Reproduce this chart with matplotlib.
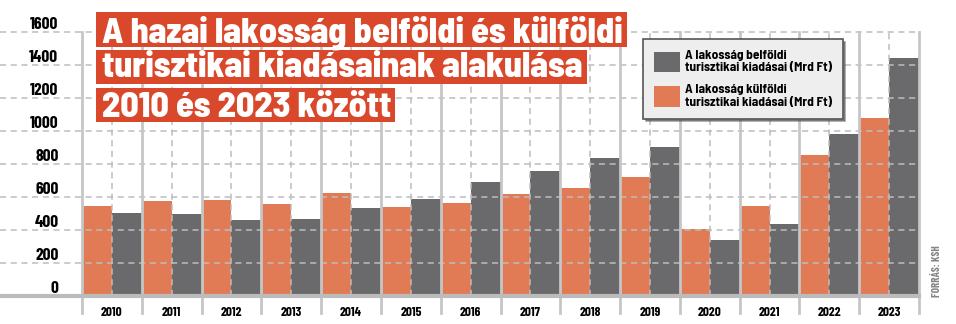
import matplotlib
matplotlib.use('Agg')
import matplotlib.pyplot as plt
import numpy as np
from matplotlib.patches import Patch, Rectangle

years = ['2010', '2011', '2012', '2013', '2014', '2015', '2016',
         '2017', '2018', '2019', '2020', '2021', '2022', '2023']
# külföldi (orange) and belföldi (gray) spending, Mrd Ft
kulfoldi = [543, 574, 580, 556, 622, 537, 562, 616, 653, 719, 404, 543, 853, 1077]
belfoldi = [501, 495, 459, 465, 531, 586, 689, 756, 835, 901, 338, 435, 980, 1441]
y_ticks = [0, 200, 400, 600, 800, 1000, 1200, 1400, 1600]

title_lines = ['A hazai lakosság belföldi és külföldi',
               'turisztikai kiadásainak alakulása',
               '2010 és 2023 között']
label_bel = 'A lakosság belföldi\nturisztikai kiadásai (Mrd Ft)'
label_kul = 'A lakosság külföldi\nturisztikai kiadásai (Mrd Ft)'

ORANGE = '#E07B55'
GRAY = '#6A6A6D'
RED = '#D9482B'
GRID = '#BDBDBD'

plt.rcParams['font.family'] = ['Barlow Condensed', 'DejaVu Sans']
plt.rcParams['font.weight'] = 'bold'
WIDE = ['Barlow Semi Condensed', 'DejaVu Sans']

W, H = 956, 324


def px(xp, yp):
    # pixel position (from top-left) -> figure fraction
    return xp / W, 1 - yp / H


def draw_chart():
    fig = plt.figure(figsize=(W / 100, H / 100), dpi=100)
    ax = fig.add_axes([82 / W, 1 - 296 / H, 837 / W, 264 / H])

    x = np.arange(len(years))
    ax.bar(x - 0.25, kulfoldi, width=0.5, color=ORANGE, zorder=2)
    ax.bar(x + 0.25, belfoldi, width=0.5, color=GRAY, zorder=2)

    ax.set_xlim(-0.5, len(years) - 0.5)
    ax.set_ylim(0, 1600)
    for s in ax.spines.values():
        s.set_visible(False)

    # dashed horizontal grid, running out to the left edge
    ext = -82 / 837
    for v in y_ticks[1:]:
        ax.plot([ext, 1], [v, v], transform=ax.get_yaxis_transform(),
                color=GRID, lw=1.1, ls=(0, (4, 3)), clip_on=False, zorder=3)
    # dashed vertical lines between the two bars of a year
    for xi in x:
        ax.plot([xi, xi], [0, 1600], color=GRID, lw=1.1, ls=(0, (4, 3)), zorder=3)
    # solid separators between years, reaching below the baseline
    for xi in np.append(x - 0.5, x[-1] + 0.5):
        ax.plot([xi, xi], [-17 / 264, 1], transform=ax.get_xaxis_transform(),
                color='#C6C6C6', lw=2, clip_on=False, zorder=4)
    # baseline
    ax.plot([ext, 1], [0, 0], transform=ax.get_yaxis_transform(),
            color='#BBBBBB', lw=3, clip_on=False, zorder=4)

    ax.set_yticks(y_ticks)
    ax.set_yticklabels([str(v) for v in y_ticks], fontsize=12.5, fontweight='bold')
    for lab in ax.get_yticklabels():
        lab.set_verticalalignment('bottom')
    ax.tick_params(axis='y', length=0, pad=17)

    ax.set_xticks(x)
    ax.set_xticklabels(years, fontsize=9.5, fontweight='bold')
    ax.tick_params(axis='x', length=0, pad=8)

    # title, each line on its own red box sized to the text
    baselines = [43, 77, 117]
    boxes = [(12, 47), (50, 84), (88, 121.5)]
    texts = []
    for line, base in zip(title_lines, baselines):
        t = fig.text(*px(102, base), line, color='white', family=WIDE,
                     fontsize=25.8, fontweight=800, va='baseline', ha='left',
                     zorder=11)
        texts.append(t)
    fig.canvas.draw()
    rend = fig.canvas.get_renderer()
    for t, (top, bot) in zip(texts, boxes):
        right = t.get_window_extent(rend).x1 + 4
        x0, y0 = px(96, bot)
        fig.patches.append(Rectangle((x0, y0), (right - 96) / W, (bot - top) / H,
                                     transform=fig.transFigure, facecolor=RED,
                                     edgecolor='none', zorder=10))

    handles = [Patch(facecolor=GRAY, label=label_bel),
               Patch(facecolor=ORANGE, label=label_kul)]
    leg = ax.legend(handles=handles, loc='upper left',
                    bbox_to_anchor=px(643, 39),
                    bbox_transform=fig.transFigure, borderaxespad=0,
                    prop=dict(family=WIDE, weight='bold', size=9.6),
                    handlelength=2.0, handleheight=2.0, handletextpad=0.35,
                    labelspacing=0.8, borderpad=0.8, fancybox=False,
                    shadow=True, framealpha=1)
    leg.get_frame().set_facecolor('#EEEEEE')
    leg.get_frame().set_edgecolor('#555555')
    leg.get_frame().set_linewidth(1.2)
    leg.set_zorder(12)

    fig.text(*px(937, 297), 'FORRÁS: KSH', rotation=90,
             color='#858585', fontsize=8, fontweight='bold',
             ha='center', va='bottom')

    plt.savefig('out.png', dpi=100)


draw_chart()
